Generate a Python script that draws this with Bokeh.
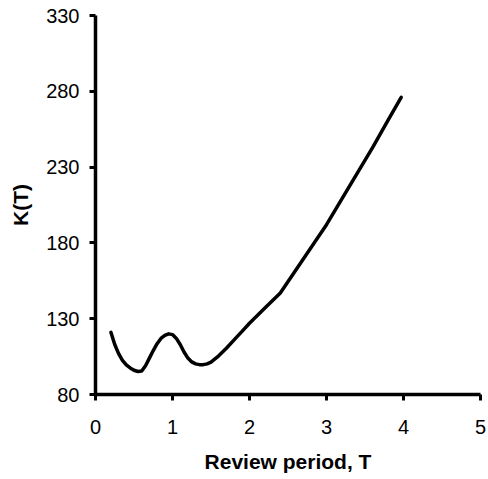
from bokeh.plotting import figure
from bokeh.models import Range1d, FixedTicker
from bokeh.embed import file_html
from bokeh.resources import INLINE

# Data
review_period = [0.20, 0.25, 0.30, 0.35, 0.40, 0.45, 0.50, 0.55, 0.60, 0.65, 0.70, 0.75,
                 0.80, 0.85, 0.90, 0.95, 1.00, 1.05, 1.10, 1.15, 1.20, 1.25, 1.30, 1.35,
                 1.40, 1.45, 1.50, 1.60, 1.70, 1.80, 1.90, 2.00, 2.20, 2.40, 2.60, 2.80,
                 3.00, 3.20, 3.40, 3.60, 3.80, 3.97]
cost = [121, 113, 107, 102.5, 99.5, 97.5, 96, 95.2, 95.5, 99, 104, 109,
        113.5, 117, 119, 120, 119.5, 117, 113, 108, 104, 101.5, 100.2, 99.7,
        99.7, 100.2, 101.3, 105.5, 110.5, 116, 121.5, 127, 137, 147, 162, 177,
        192, 209, 226, 243, 261, 276]

x_ticks = [0, 1, 2, 3, 4, 5]
y_ticks = [80, 130, 180, 230, 280, 330]

FONT = "Liberation Sans"

p = figure(width=488, height=475, output_backend="svg", toolbar_location=None,
           x_range=Range1d(0, 5), y_range=Range1d(80, 330),
           min_border_left=95, min_border_right=8, min_border_top=15, min_border_bottom=10)

p.line(review_period, cost, line_color="black", line_width=3.5,
       line_join="round", line_cap="round")

p.outline_line_color = None
p.xgrid.grid_line_color = None
p.ygrid.grid_line_color = None
p.background_fill_color = "white"
p.border_fill_color = "white"

p.xaxis.ticker = FixedTicker(ticks=x_ticks)
p.yaxis.ticker = FixedTicker(ticks=y_ticks)
p.xaxis.axis_label = "Review period, T"
p.yaxis.axis_label = "K(T)"

for ax in (p.xaxis[0], p.yaxis[0]):
    ax.axis_line_width = 3.5
    ax.axis_line_color = "black"
    ax.major_tick_line_width = 3
    ax.major_tick_line_color = "black"
    ax.major_tick_in = 0
    ax.major_tick_out = 6
    ax.minor_tick_line_color = None
    ax.major_label_text_font = FONT
    ax.major_label_text_font_size = "20px"
    ax.major_label_text_color = "black"
    ax.axis_label_text_font = FONT
    ax.axis_label_text_font_size = "21px"
    ax.axis_label_text_font_style = "bold"
    ax.axis_label_text_color = "black"

p.xaxis.major_label_standoff = 19
p.xaxis.axis_label_standoff = 13
p.yaxis.major_label_standoff = 10
p.yaxis.axis_label_standoff = 11

open("out.html", "w").write(file_html(p, INLINE))
